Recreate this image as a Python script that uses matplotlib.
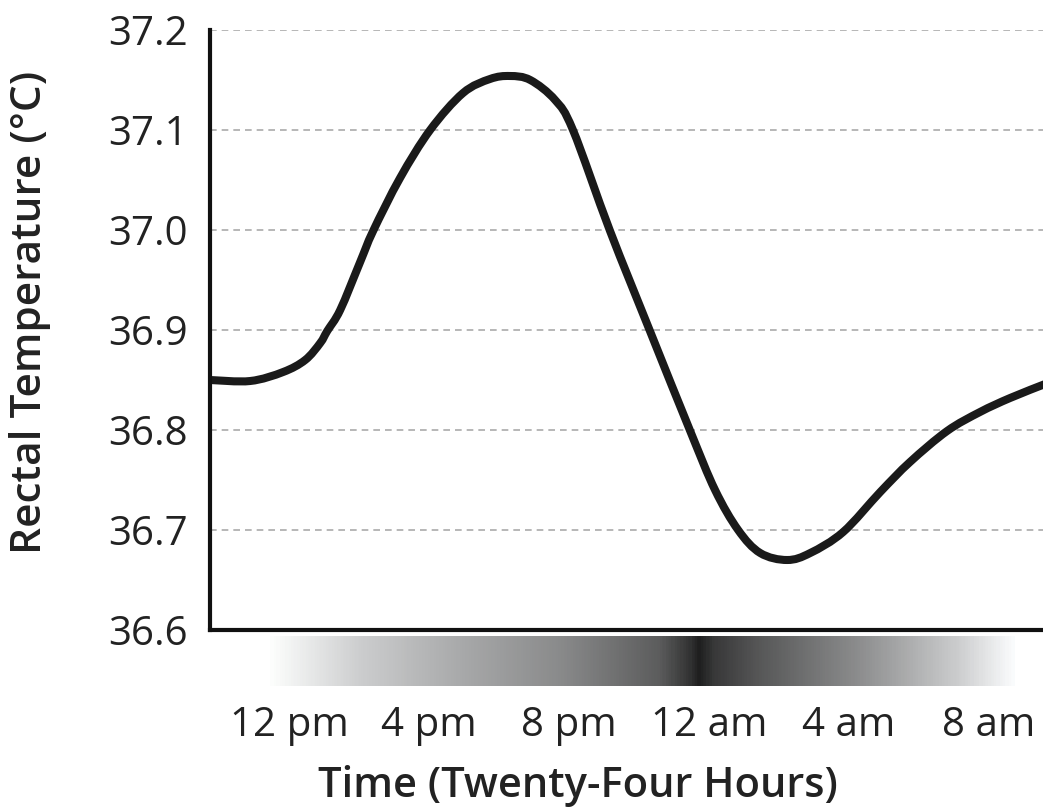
import numpy as np
import matplotlib
matplotlib.use("Agg")
import matplotlib.pyplot as plt
from matplotlib.colors import LinearSegmentedColormap
from matplotlib.path import Path
from matplotlib.patches import PathPatch

# hours (12 = noon, 24 = midnight, 32 = 8 am next day) and rectal temperature
hours = [9.74, 10.89, 11.83, 12.46, 12.89, 13.09, 13.46, 14.03, 14.40, 15.17,
         16.03, 16.97, 17.74, 18.31, 18.89, 19.60, 20.11, 21.17, 22.31, 23.46,
         24.17, 24.83, 25.46, 26.23, 26.89, 27.83, 28.89, 29.74, 30.80,
         31.74, 32.60, 33.60]
temps = [36.850, 36.849, 36.858, 36.870, 36.887, 36.899, 36.920, 36.968, 36.999, 37.052,
         37.100, 37.137, 37.151, 37.154, 37.150, 37.130, 37.100, 36.999, 36.899, 36.799,
         36.740, 36.700, 36.677, 36.670, 36.677, 36.698, 36.738, 36.768, 36.799,
         36.818, 36.832, 36.846]

tick_hours = [12, 16, 20, 24, 28, 32]
tick_labels = ["12 pm", "4 pm", "8 pm", "12 am", "4 am", "8 am"]
y_ticks = [36.6, 36.7, 36.8, 36.9, 37.0, 37.1, 37.2]

# day/night shading bar: position along bar, grey level
shade_pos = [0.0, 0.12, 0.255, 0.389, 0.523, 0.564, 0.577, 0.597, 0.658, 0.792, 0.926, 1.0]
shade_val = [0.99, 0.80, 0.66, 0.54, 0.36, 0.20, 0.12, 0.22, 0.34, 0.55, 0.80, 0.98]

plt.rcParams["font.family"] = ["Open Sans", "DejaVu Sans"]
txt = "#222222"

fig = plt.figure(figsize=(10.43, 8.11), dpi=100)
ax = fig.add_axes([210 / 1043, 181 / 811, 833 / 1043, 600 / 811])

for yv in y_ticks[1:]:
    ax.axhline(yv, color="#aaaaaa", linewidth=1.2, linestyle=(0, (4, 3)), zorder=1)

# smooth line through the read points (Catmull-Rom segments as cubic Beziers)
pts = np.column_stack([hours, temps])
verts = [pts[0]]
codes = [Path.MOVETO]
for i in range(len(pts) - 1):
    p0 = pts[max(i - 1, 0)]
    p1 = pts[i]
    p2 = pts[i + 1]
    p3 = pts[min(i + 2, len(pts) - 1)]
    verts += [p1 + (p2 - p0) / 6, p2 - (p3 - p1) / 6, p2]
    codes += [Path.CURVE4] * 3
ax.add_patch(PathPatch(Path(verts, codes), facecolor="none", edgecolor="#1a1a1a",
                       linewidth=5.8, joinstyle="round", capstyle="round", zorder=3))

ax.set_xlim(9.74, 33.54)
ax.set_ylim(36.6, 37.2)
ax.set_yticks(y_ticks)
ax.set_yticklabels([f"{v:.1f}" for v in y_ticks])
ax.set_xticks(tick_hours)
ax.set_xticklabels(tick_labels)
ax.tick_params(axis="y", length=0, pad=16, labelsize=29, labelcolor=txt)
ax.tick_params(axis="x", length=0, pad=54, labelsize=29, labelcolor=txt)

for s in ["top", "right"]:
    ax.spines[s].set_visible(False)
for s in ["left", "bottom"]:
    ax.spines[s].set_linewidth(3)
    ax.spines[s].set_color("#111111")
    ax.spines[s].set_zorder(4)

fig.text(30 / 1043, 1 - 312 / 811, "Rectal Temperature (°C)", fontsize=30.5,
         fontweight="semibold", color=txt, rotation=90, ha="center", va="center")
fig.text(578 / 1043, 1 - 786 / 811, "Time (Twenty-Four Hours)", fontsize=30,
         fontweight="semibold", color=txt, ha="center", va="center")

# gradient bar under the axis
gax = fig.add_axes([270 / 1043, 125 / 811, 745 / 1043, 50 / 811])
cmap = LinearSegmentedColormap.from_list(
    "daynight", [(p, (v, v * 1.005, v * 1.01 if v < 0.99 else v)) for p, v in zip(shade_pos, shade_val)])
gax.imshow(np.linspace(0, 1, 600).reshape(1, -1), aspect="auto", cmap=cmap, vmin=0, vmax=1)
gax.set_axis_off()

fig.savefig("out.png", dpi=100)
